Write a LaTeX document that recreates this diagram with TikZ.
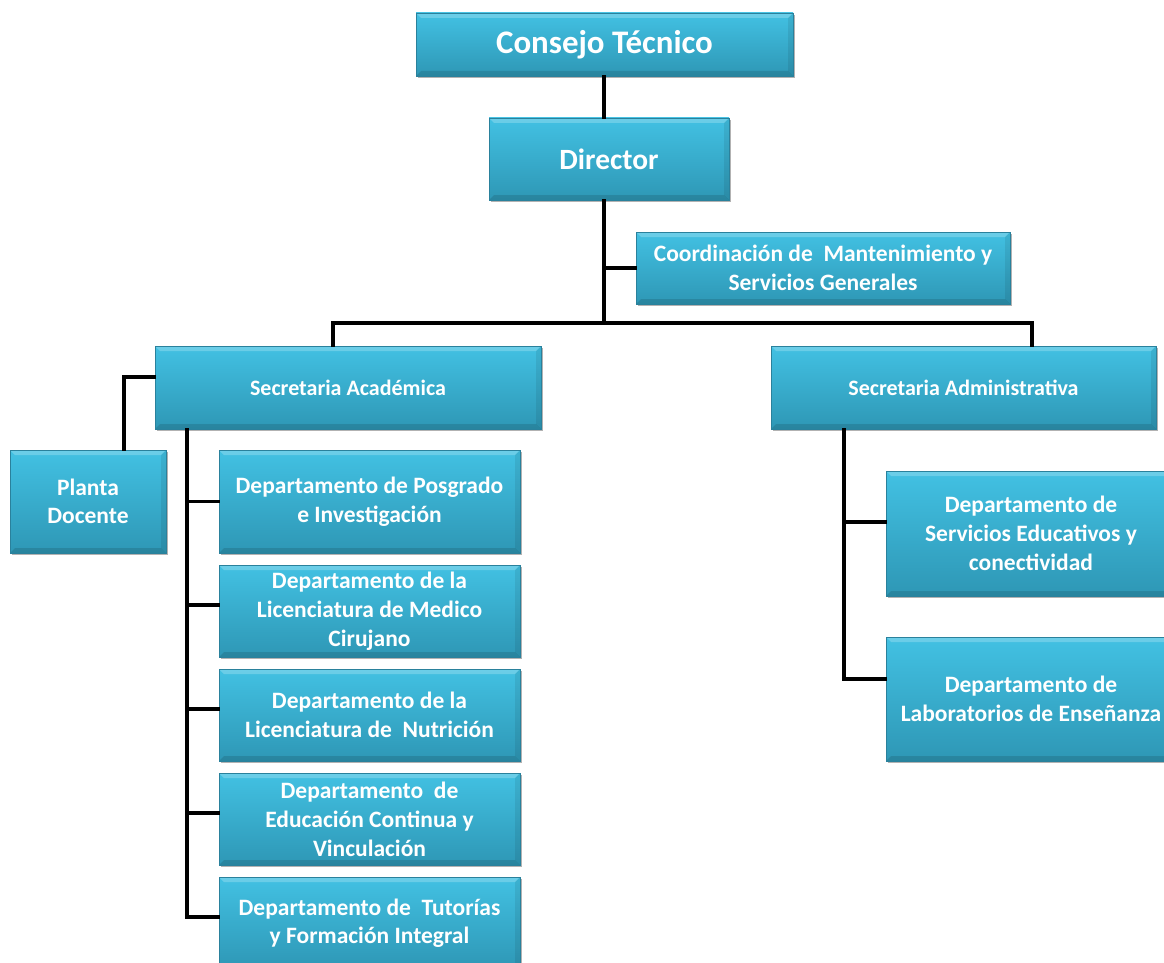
\documentclass[tikz,border=0pt]{standalone}
\usepackage{fontspec}
\setmainfont{Carlito}
\usetikzlibrary{shadows,calc}
\definecolor{boxtop}{HTML}{42C1E3}
\definecolor{boxbot}{HTML}{2E97B5}
\definecolor{boxedge}{HTML}{2A819C}
\tikzset{
  orgbox/.style={rectangle, draw=boxedge, line width=0.8pt,
    top color=boxtop, bottom color=boxbot,
    text=white, align=center, inner sep=2pt,
    drop shadow={shadow xshift=2pt, shadow yshift=-2pt, opacity=0.3, fill=black},
    path picture={
      \fill[white,opacity=0.22] (path picture bounding box.north west) -- (path picture bounding box.north east)
        -- ([xshift=-5pt,yshift=-5pt]path picture bounding box.north east) -- ([xshift=5pt,yshift=-5pt]path picture bounding box.north west) -- cycle;
      \fill[black,opacity=0.12] (path picture bounding box.south west) -- (path picture bounding box.south east)
        -- ([xshift=-5pt,yshift=5pt]path picture bounding box.south east) -- ([xshift=5pt,yshift=5pt]path picture bounding box.south west) -- cycle;
      \fill[black,opacity=0.08] (path picture bounding box.south east) -- (path picture bounding box.north east)
        -- ([xshift=-5pt,yshift=-5pt]path picture bounding box.north east) -- ([xshift=-5pt,yshift=5pt]path picture bounding box.south east) -- cycle;
    }},
  conn/.style={line width=3.6pt, black, line cap=rect}
}
\newcommand{\bx}[8]{% name, x1, y1, x2, y2, size, leading, text
  \node[orgbox, font={\bfseries\fontsize{#6}{#7}\selectfont}, minimum width={(#4-#2)*1pt}, minimum height={(#5-#3)*1pt}] (#1) at ({(#2+#4)/2},{(#3+#5)/2}) {#8};}
\begin{document}
\begin{tikzpicture}[x=1pt,y=-1pt]
\useasboundingbox[fill=white] (0,0) rectangle (1164,963);
\coordinate (hub) at (604,323);
\coordinate (jl) at (333,323);
\coordinate (jr) at (1032,323);
\coordinate (pa) at (124,377);
\coordinate (as) at (187,429);
\coordinate (ds) at (844,429);
% boxes
\bx{ct}{416}{13}{793}{76}{32.9}{38}{Consejo Técnico}
\bx{dir}{489}{118}{729}{200}{29.4}{34}{Director}
\bx{coord}{636}{232}{1010}{304}{23.5}{29}{Coordinación de\ \ Mantenimiento y\\Servicios Generales}
\bx{acad}{155}{346}{541}{429}{22}{26}{Secretaria Académica}
\bx{admin}{771}{346}{1156}{429}{22}{26}{Secretaria Administrativa}
\bx{planta}{10}{450}{166}{553}{23.5}{28.5}{Planta\\Docente}
\bx{pos}{219}{450}{520}{553}{23.5}{28.5}{Departamento de Posgrado\\e Investigación}
\bx{med}{219}{565}{520}{657}{23.5}{29}{Departamento de la\\Licenciatura de Medico\\Cirujano}
\bx{nut}{219}{669}{520}{761}{23.5}{29}{Departamento de la\\Licenciatura de\ \ Nutrición}
\bx{edu}{219}{773}{520}{865}{23.5}{29}{Departamento\ \ de\\Educación Continua y\\Vinculación}
\bx{tut}{219}{877}{520}{969}{23.5}{28.5}{Departamento de\ \ Tutorías\\y Formación Integral}
\bx{serv}{886}{471}{1176}{596}{23.5}{29}{Departamento de\\Servicios Educativos y\\conectividad}
\bx{lab}{886}{637}{1176}{761}{23.5}{29}{Departamento de\\Laboratorios de Enseñanza}
% branch points
\coordinate (bpos) at ([yshift=0pt]pos.west);
\coordinate (bmed) at ([yshift=6pt]med.west);
\coordinate (bnut) at ([yshift=6pt]nut.west);
\coordinate (bedu) at ([yshift=6pt]edu.west);
\coordinate (btut) at ([yshift=6pt]tut.west);
\coordinate (bserv) at ([yshift=11.5pt]serv.west);
\coordinate (blab) at ([yshift=20pt]lab.west);
% connectors
\draw[conn] (ct.south -| hub) -- (dir.north -| hub);
\draw[conn] (dir.south -| hub) -- (hub);
\draw[conn] (coord.west) -- (coord.west -| hub);
\draw[conn] (jl |- acad.north) -- (jl) -- (jr) -- (jr |- admin.north);
\draw[conn] (acad.west |- pa) -- (pa) -- (pa |- planta.north);
\draw[conn] (as |- acad.south) -- (as |- btut) -- (btut);
\draw[conn] (as |- bpos) -- (bpos);
\draw[conn] (as |- bmed) -- (bmed);
\draw[conn] (as |- bnut) -- (bnut);
\draw[conn] (as |- bedu) -- (bedu);
\draw[conn] (ds |- admin.south) -- (ds |- blab) -- (blab);
\draw[conn] (ds |- bserv) -- (bserv);
\end{tikzpicture}
\end{document}
